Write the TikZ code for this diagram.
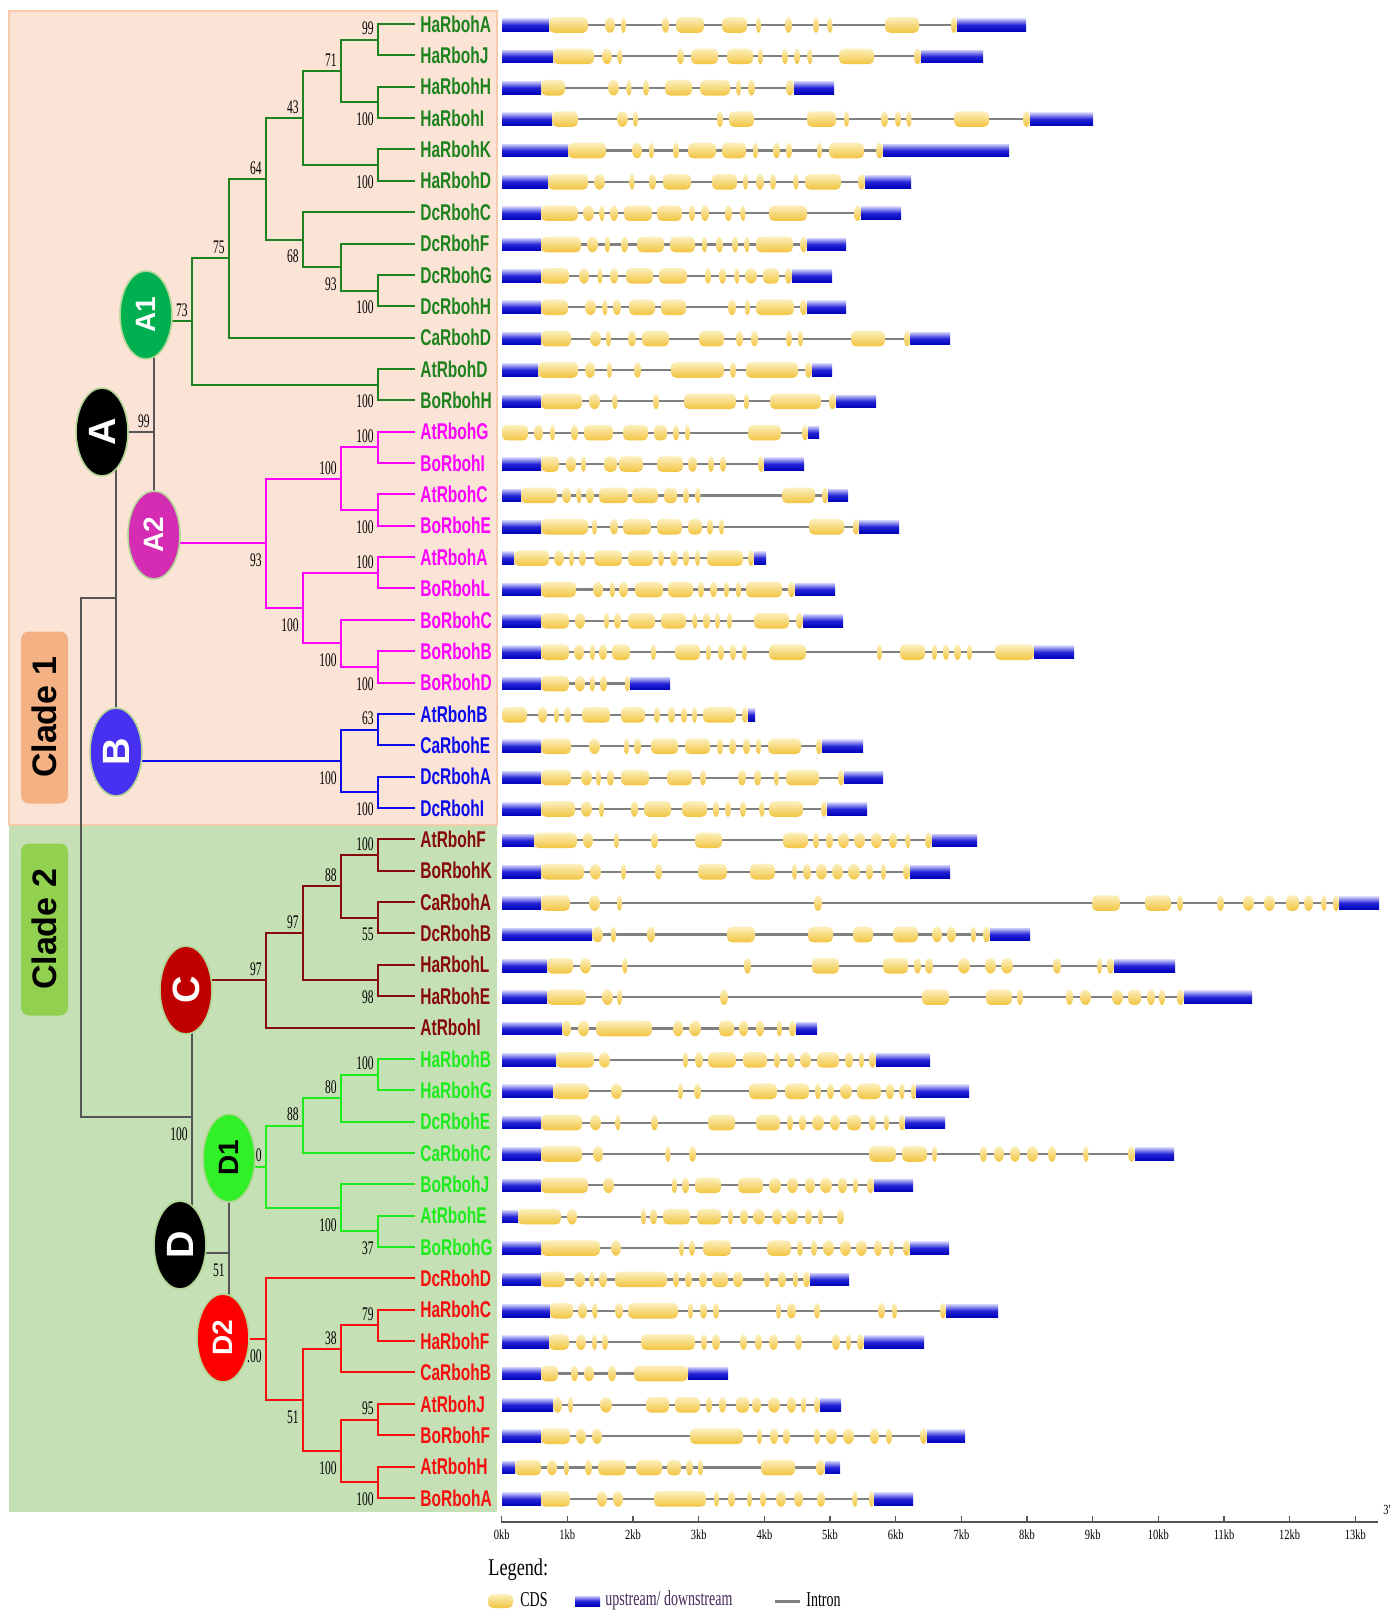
\documentclass[tikz,border=0pt]{standalone}
\usepackage{fontspec}
\usetikzlibrary{shapes.geometric}
\newfontfamily\leaffont[FakeStretch=0.68]{Liberation Sans}
\newfontfamily\bootfont[FakeStretch=0.6]{Liberation Serif}
\newfontfamily\cladefont{Liberation Sans}
\newfontfamily\kbfont[FakeStretch=0.75]{Liberation Serif}
\newfontfamily\legfont[FakeStretch=0.66]{Liberation Serif}
\newfontfamily\legheadfont[FakeStretch=0.76]{Liberation Serif}

\definecolor{grA1}{RGB}{30,130,30}
\definecolor{mgA2}{RGB}{255,0,255}
\definecolor{blB}{RGB}{10,10,235}
\definecolor{rdC}{RGB}{135,10,10}
\definecolor{grD1}{RGB}{30,235,30}
\definecolor{rdD2}{RGB}{245,15,15}
\definecolor{ellA1}{RGB}{0,176,80}
\definecolor{ellA2}{RGB}{212,44,178}
\definecolor{ellB}{RGB}{72,48,240}
\definecolor{ellC}{RGB}{192,0,0}
\definecolor{ellD1}{RGB}{50,240,40}
\definecolor{ellD2}{RGB}{255,0,0}
\definecolor{ellrim}{RGB}{178,214,150}
\definecolor{peach}{RGB}{251,228,214}
\definecolor{peachline}{RGB}{248,203,173}
\definecolor{sage}{RGB}{197,224,180}
\definecolor{boxone}{RGB}{244,177,131}
\definecolor{boxtwo}{RGB}{146,208,80}
\definecolor{introngray}{RGB}{128,128,128}
\definecolor{linkgray}{RGB}{85,85,85}
\definecolor{legpurple}{RGB}{70,40,90}

\tikzset{
  utr/.style={top color={rgb,255:red,200;green,200;blue,250},bottom color={rgb,255:red,0;green,0;blue,185},middle color={rgb,255:red,35;green,35;blue,215}},
  cds/.style={top color={rgb,255:red,252;green,240;blue,190},bottom color={rgb,255:red,242;green,196;blue,64}},
  intron/.style={draw=introngray,line width=1.1pt}
}

\newcommand{\genemodel}[4]{%
  \pgfmathsetmacro\gy{25+31.36*#1}
  \draw[intron] (502,\gy) -- (#2,\gy);
  \foreach \xa/\xb in {#3}{
    \shade[utr] (\xa,\gy-6.3) rectangle (\xb,\gy+6.3);
  }
  \foreach \xa/\xb in {#4}{
    \pgfmathtruncatemacro\isnarrow{(\xb-\xa)<13}
    \ifnum\isnarrow=1
      \pgfmathsetmacro\cx{(\xa+\xb)/2}
      \pgfmathsetmacro\rx{max((\xb-\xa)/2,2.5)}
      \shade[cds] (\cx,\gy) ellipse [x radius=\rx, y radius=7.8];
    \else
      \shade[cds,rounded corners=2.5pt] (\xa,\gy-7.8) rectangle (\xb,\gy+7.8);
    \fi
  }
}

\begin{document}
\begin{tikzpicture}[x=0.5pt,y=-0.5pt,
  declare function={row(\k)=24+31.36*\k;},
  leaf/.style={anchor=west,inner xsep=2.5pt,inner ysep=0pt,font=\leaffont\bfseries\fontsize{11.4}{12}\selectfont},
  boot/.style={anchor=east,inner sep=0pt,xshift=-2pt,font=\bootfont\fontsize{9.6}{10}\selectfont},
  bt/.style={boot,yshift=5.5pt},
  bb/.style={boot,yshift=-8.5pt},
  branch/.style={line width=1pt},
  link/.style={draw=linkgray,line width=0.7pt},
  ell/.style={ellipse,rotate=90,minimum width=44pt,minimum height=26pt,inner sep=0pt,draw=ellrim,line width=0.8pt,text=white,font=\cladefont\bfseries\fontsize{19}{20}\selectfont},
  ell2/.style={ell,font=\cladefont\bfseries\fontsize{14}{15}\selectfont},
  cladebox/.style={rounded corners=4pt,rotate=90,minimum width=86pt,minimum height=23.5pt,inner sep=0pt,font=\cladefont\bfseries\fontsize{17}{18}\selectfont},
  leg/.style={anchor=west,inner sep=0pt,font=\legfont\fontsize{10.6}{11}\selectfont}
]
  \useasboundingbox (0,0) rectangle (1400,1614);
  \fill[white] (0,0) rectangle (1400,1614);
  \filldraw[fill=peach,draw=peachline,line width=1pt] (9,11) rectangle (497,825);
  \fill[sage] (9,826) rectangle (497,1512);
  \node[cladebox,fill=boxone] (clade1) at (44.5,717.5) {Clade 1};
  \node[cladebox,fill=boxtwo] (clade2) at (44.5,929.5) {Clade 2};

  \foreach \i/\gn/\gc in {0/HaRbohA/grA1,1/HaRbohJ/grA1,2/HaRbohH/grA1,3/HaRbohI/grA1,4/HaRbohK/grA1,
      5/HaRbohD/grA1,6/DcRbohC/grA1,7/DcRbohF/grA1,8/DcRbohG/grA1,9/DcRbohH/grA1,10/CaRbohD/grA1,
      11/AtRbohD/grA1,12/BoRbohH/grA1,
      13/AtRbohG/mgA2,14/BoRbohI/mgA2,15/AtRbohC/mgA2,16/BoRbohE/mgA2,17/AtRbohA/mgA2,18/BoRbohL/mgA2,
      19/BoRbohC/mgA2,20/BoRbohB/mgA2,21/BoRbohD/mgA2,
      22/AtRbohB/blB,23/CaRbohE/blB,24/DcRbohA/blB,25/DcRbohI/blB,
      26/AtRbohF/rdC,27/BoRbohK/rdC,28/CaRbohA/rdC,29/DcRbohB/rdC,30/HaRbohL/rdC,31/HaRbohE/rdC,32/AtRbohI/rdC,
      33/HaRbohB/grD1,34/HaRbohG/grD1,35/DcRbohE/grD1,36/CaRbohC/grD1,37/BoRbohJ/grD1,38/AtRbohE/grD1,39/BoRbohG/grD1,
      40/DcRbohD/rdD2,41/HaRbohC/rdD2,42/HaRbohF/rdD2,43/CaRbohB/rdD2,44/AtRbohJ/rdD2,45/BoRbohF/rdD2,
      46/AtRbohH/rdD2,47/BoRbohA/rdD2}
    \node[leaf,text=\gc] (L\i) at (415,{row(\i)}) {\gn};

  \coordinate (cA1) at (146,315);
  \coordinate (cA) at (102,432);
  \coordinate (cA2) at (154,535);
  \coordinate (cB) at (116,752);
  \coordinate (cC) at (186,990);
  \coordinate (cD) at (180,1245);
  \coordinate (cD1) at (229,1158);
  \coordinate (cD2) at (223,1338);
  \coordinate (jA) at (154,432);
  \coordinate (jAB) at (116,598);
  \coordinate (r1) at (81,598);
  \coordinate (r2) at (81,1117);
  \coordinate (jCD) at (192,1117);
  \coordinate (jD) at (229,1253);

  \coordinate (n01) at (378,{row(0.5)});
  \coordinate (n23) at (378,{row(2.5)});
  \coordinate (n0123) at (341,{row(1.5)});
  \coordinate (n45) at (378,{row(4.5)});
  \coordinate (n05) at (303,{row(3)});
  \coordinate (n89) at (378,{row(8.5)});
  \coordinate (n79) at (341,{row(7.75)});
  \coordinate (n69) at (303,{row(6.875)});
  \coordinate (n09) at (266,{row(4.9375)});
  \coordinate (n010) at (229,{row(7.46875)});
  \coordinate (n1112) at (378,{row(11.5)});
  \coordinate (nA1) at (192,{row(9.484375)});
  \coordinate (n1314) at (378,{row(13.5)});
  \coordinate (n1516) at (378,{row(15.5)});
  \coordinate (n1316) at (341,{row(14.5)});
  \coordinate (n1718) at (378,{row(17.5)});
  \coordinate (n2021) at (378,{row(20.5)});
  \coordinate (n1921) at (341,{row(19.75)});
  \coordinate (n1721) at (303,{row(18.625)});
  \coordinate (nA2) at (266,{row(16.5625)});
  \coordinate (n2223) at (378,{row(22.5)});
  \coordinate (n2425) at (378,{row(24.5)});
  \coordinate (nB) at (341,{row(23.5)});
  \coordinate (n2627) at (378,{row(26.5)});
  \coordinate (n2829) at (378,{row(28.5)});
  \coordinate (n2629) at (341,{row(27.5)});
  \coordinate (n3031) at (378,{row(30.5)});
  \coordinate (n2631) at (303,{row(29)});
  \coordinate (nC) at (266,{row(30.5)});
  \coordinate (n3334) at (378,{row(33.5)});
  \coordinate (n3335) at (341,{row(34.25)});
  \coordinate (n3336) at (303,{row(35.125)});
  \coordinate (n3839) at (378,{row(38.5)});
  \coordinate (n3739) at (341,{row(37.75)});
  \coordinate (nD1) at (266,{row(36.4375)});
  \coordinate (n4142) at (378,{row(41.5)});
  \coordinate (n4143) at (341,{row(42.25)});
  \coordinate (n4445) at (378,{row(44.5)});
  \coordinate (n4647) at (378,{row(46.5)});
  \coordinate (n4447) at (341,{row(45.5)});
  \coordinate (n4147) at (303,{row(43.875)});
  \coordinate (nD2) at (266,{row(41.9375)});

  \draw[link] (cA2 |- cA1) -- (cA2);
  \draw[link] (cA) -- (jA);
  \draw[link] (cB |- cA) -- (cB);
  \draw[link] (jAB) -- (r1) -- (r2) -- (jCD);
  \draw[link] (jCD |- cC) -- (jCD |- cD);
  \draw[link] (cD |- jD) -- (jD);
  \draw[link] (jD |- cD1) -- (jD |- cD2);

  \foreach \p/\c in {n01/L0.west,n01/L1.west,n23/L2.west,n23/L3.west,n0123/n01,n0123/n23,
      n45/L4.west,n45/L5.west,n05/n0123,n05/n45,n89/L8.west,n89/L9.west,n79/L7.west,n79/n89,
      n69/L6.west,n69/n79,n09/n05,n09/n69,n010/n09,n010/L10.west,n1112/L11.west,n1112/L12.west,
      nA1/n010,nA1/n1112}
    \draw[branch,grA1] (\p) |- (\c);
  \foreach \p/\c in {n1314/L13.west,n1314/L14.west,n1516/L15.west,n1516/L16.west,n1316/n1314,n1316/n1516,
      n1718/L17.west,n1718/L18.west,n2021/L20.west,n2021/L21.west,n1921/L19.west,n1921/n2021,
      n1721/n1718,n1721/n1921,nA2/n1316,nA2/n1721}
    \draw[branch,mgA2] (\p) |- (\c);
  \foreach \p/\c in {n2223/L22.west,n2223/L23.west,n2425/L24.west,n2425/L25.west,nB/n2223,nB/n2425}
    \draw[branch,blB] (\p) |- (\c);
  \foreach \p/\c in {n2627/L26.west,n2627/L27.west,n2829/L28.west,n2829/L29.west,n2629/n2627,n2629/n2829,
      n3031/L30.west,n3031/L31.west,n2631/n2629,n2631/n3031,nC/n2631,nC/L32.west}
    \draw[branch,rdC] (\p) |- (\c);
  \foreach \p/\c in {n3334/L33.west,n3334/L34.west,n3335/n3334,n3335/L35.west,n3336/n3335,n3336/L36.west,
      n3839/L38.west,n3839/L39.west,n3739/L37.west,n3739/n3839,nD1/n3336,nD1/n3739}
    \draw[branch,grD1] (\p) |- (\c);
  \foreach \p/\c in {n4142/L41.west,n4142/L42.west,n4143/n4142,n4143/L43.west,n4445/L44.west,n4445/L45.west,
      n4647/L46.west,n4647/L47.west,n4447/n4445,n4447/n4647,n4147/n4143,n4147/n4447,nD2/L40.west,nD2/n4147}
    \draw[branch,rdD2] (\p) |- (\c);

  \draw[branch,grA1] (cA1 |- nA1) -- (nA1);
  \draw[branch,mgA2] (cA2 |- nA2) -- (nA2);
  \draw[branch,blB] (cB |- nB) -- (nB);
  \draw[branch,rdC] (cC |- nC) -- (nC);
  \draw[branch,grD1] (cD1 |- nD1) -- (nD1);
  \draw[branch,rdD2] (cD2 |- nD2) -- (nD2);

  \foreach \c/\v in {n01/99,n0123/71,n05/43,n09/64,n010/75,nA1/73,n1314/100,n1316/100,n1718/100,
      n2223/63,n2627/100,n2629/88,n2631/97,nC/97,n3334/100,n3335/80,n3336/88,nD1/0,
      n4142/79,n4143/38,n4445/95,jA/99}
    \node[bt] (bs\c) at (\c) {\v};
  \foreach \c/\v in {n23/100,n45/100,n89/100,n79/93,n69/68,n1112/100,n1516/100,n2021/100,n1921/100,
      n1721/100,nA2/93,n2425/100,nB/100,n2829/55,n3031/98,n3839/37,n3739/100,
      n4647/100,n4447/100,n4147/51,nD2/.00,jCD/100,jD/51}
    \node[bb] (bs\c) at (\c) {\v};

  \node[ell2,fill=ellA1] (A1) at (cA1) {A1};
  \node[ell,fill=black] (A) at (cA) {A};
  \node[ell2,fill=ellA2] (A2) at (cA2) {A2};
  \node[ell,fill=ellB] (B) at (cB) {B};
  \node[ell,fill=ellC] (C) at (cC) {C};
  \node[ell,fill=black] (D) at (cD) {D};
  \node[ell2,fill=ellD1,text=black] (D1) at (cD1) {D1};
  \node[ell2,fill=ellD2] (D2) at (cD2) {D2};

  \genemodel{0}{1026}{502/549,957/1026}{549/588,605/615,622/625,662/669,676/704,722/747,756/761,785/792,813/819,828/832,885/919,951/957}
  \genemodel{1}{983}{502/553,921/983}{553/594,602/612,619/621,677/684,691/718,727/753,758/763,782/788,794/800,808/812,839/874,914/921}
  \genemodel{2}{834}{502/541,794/834}{541/565,608/619,628/630,643/649,665/692,700/730,736/741,748/755,786/794}
  \genemodel{3}{1093}{502/552,1030/1093}{552/578,617/628,634/637,717/723,729/754,807/836,844/849,881/888,895/901,907/911,954/989,1023/1030}
  \genemodel{4}{1009}{502/568,883/1009}{568/606,632/642,650/653,673/679,688/716,722/746,753/758,773/780,786/792,818/821,829/864,876/883}
  \genemodel{5}{911}{502/548,865/911}{548/588,594/605,630/634,649/656,663/691,712/737,743/748,756/764,770/776,794/798,805/841,858/865}
  \genemodel{6}{901}{502/541,861/901}{541/578,583/594,600/604,610/618,624/652,657/682,689/695,701/709,725/732,741/745,769/807,854/861}
  \genemodel{7}{846}{502/541,807/846}{541/581,587/598,606/609,621/628,637/664,670/695,702/707,716/723,732/738,745/749,756/793,800/807}
  \genemodel{8}{832}{502/541,792/832}{541/569,579/589,598/602,610/618,626/653,659/687,705/711,719/726,735/739,745/757,763/779,785/792}
  \genemodel{9}{846}{502/541,807/846}{541/568,585/596,603/607,613/621,629/655,661/686,728/736,745/750,756/794,800/807}
  \genemodel{10}{950}{502/541,910/950}{541/571,590/601,607/610,628/636,642/669,699/724,736/743,751/758,786/792,798/803,851/885,904/910}
  \genemodel{11}{832}{502/538,812/832}{538/578,585/595,608/611,634/641,671/724,730/736,746/798,805/812}
  \genemodel{12}{876}{502/541,836/876}{541/582,589/600,613/617,653/659,684/736,744/749,770/821,829/836}
  \genemodel{13}{819}{808/819}{502/528,534/543,551/554,571/578,584/613,623/648,654/667,673/679,686/689,748/781,802/808}
  \genemodel{14}{804}{502/541,764/804}{541/559,566/576,582/585,604/617,619/643,657/683,688/697,708/714,720/726,758/764}
  \genemodel{15}{848}{502/521,828/848}{521/557,562/571,578/580,586/594,599/628,632/658,664/677,683/689,696/700,782/815,822/828}
  \genemodel{16}{899}{502/541,859/899}{541/588,593/596,610/618,623/651,657/682,688/702,707/713,719/724,809/844,853/859}
  \genemodel{17}{766}{502/514,754/766}{514/549,554/564,570/573,579/586,594/622,628/653,658/664,670/678,683/689,695/700,707/743,748/754}
  \genemodel{18}{835}{502/541,795/835}{541/576,593/603,611/614,619/628,635/663,668/693,698/704,710/717,724/729,736/741,746/782,788/795}
  \genemodel{19}{843}{502/541,803/843}{541/569,575/585,605/608,614/621,628/655,661/686,693/697,703/710,715/720,728/731,754/789,796/803}
  \genemodel{20}{1074}{502/541,1034/1074}{541/569,574/584,591/594,599/607,612/630,651/656,675/700,706/711,718/724,730/736,743/746,769/806,877/882,900/925,932/937,943/949,954/961,968/971,995/1034}
  \genemodel{21}{670}{502/541,630/670}{541/569,575/585,591/594,600/607,625/630}
  \genemodel{22}{755}{748/755}{502/527,538/547,555/558,564/571,582/610,621/645,654/660,668/675,681/687,693/696,703/736,742/748}
  \genemodel{23}{863}{502/541,822/863}{541/571,589/600,625/628,634/641,651/678,685/710,717/723,729/736,743/750,756/761,768/801,816/822}
  \genemodel{24}{883}{502/541,844/883}{541/571,581/592,597/600,607/614,621/649,667/692,700/706,738/746,754/761,774/779,786/819,838/844}
  \genemodel{25}{867}{502/541,827/867}{541/575,581/592,600/603,631/638,644/671,682/707,713/719,725/731,740/746,760/764,769/803,821/827}
  \genemodel{26}{977}{502/534,932/977}{534/577,583/593,615/618,651/658,695/722,783/808,813/819,826/833,838/849,854/865,871/882,889/897,906/910,925/932}
  \genemodel{27}{950}{502/541,910/950}{541/584,590/601,622/625,655/662,698/727,750/775,792/797,803/811,816/827,832/843,848/860,866/873,881/886,903/910}
  \genemodel{28}{1379}{502/541,1339/1379}{541/570,589/600,618/621,814/822,1092/1120,1145/1171,1177/1183,1217/1224,1243/1254,1264/1275,1286/1299,1304/1313,1322/1326,1333/1339}
  \genemodel{29}{1030}{502/592,990/1030}{592/603,612/615,647/655,727/755,808/833,853/873,893/918,932/942,947/956,971/976,983/990}
  \genemodel{30}{1175}{502/547,1114/1175}{547/573,580/591,623/627,744/751,812/839,883/908,914/921,925/933,958/970,985/996,1001/1013,1053/1061,1097/1102,1107/1114}
  \genemodel{31}{1252}{502/547,1184/1252}{547/586,602/613,618/621,720/728,922/949,986/1012,1017/1023,1066/1073,1080/1091,1112/1123,1128/1141,1147/1155,1159/1165,1177/1184}
  \genemodel{32}{817}{502/562,796/817}{562/571,578/589,596/652,673/683,689/701,719/734,739/748,756/764,777/782,789/796}
  \genemodel{33}{930}{502/556,876/930}{556/594,599/610,684/687,695/703,708/736,743/767,774/780,787/795,800/811,817/839,845/853,859/864,869/876}
  \genemodel{34}{969}{502/553,916/969}{553/589,611/622,679/682,694/701,749/777,785/809,815/821,827/834,840/852,857/881,886/894,900/904,911/916}
  \genemodel{35}{945}{502/541,905/945}{541/582,590/601,616/620,651/658,708/735,756/780,787/793,799/806,812/824,830/840,847/861,869/876,884/889,899/905}
  \genemodel{36}{1174}{502/541,1135/1174}{541/582,593/603,666/670,689/696,869/896,902/927,932/937,980/987,994/1004,1010/1020,1027/1038,1048/1056,1084/1088,1128/1135}
  \genemodel{37}{913}{502/541,874/913}{541/588,603/614,673/676,682/689,695/721,738/763,769/781,787/798,805/815,820/832,838/847,853/858,867/874}
  \genemodel{38}{844}{502/518}{518/561,567/577,642/645,650/657,663/690,697/721,728/733,740/748,753/765,772/782,786/798,805/812,818/823,837/844}
  \genemodel{39}{949}{502/541,910/949}{541/600,611/621,680/683,689/695,703/731,767/791,797/803,811/817,823/834,840/851,856/867,874/882,889/894,903/910}
  \genemodel{40}{849}{502/541,810/849}{541/565,574/585,590/594,599/607,615/667,673/679,685/692,699/707,712/728,733/743,764/770,778/786,793/798,803/810}
  \genemodel{41}{998}{502/550,946/998}{550/573,578/587,594/596,615/623,628/678,688/693,700/707,713/719,777/780,787/796,814/820,878/885,892/897,940/946}
  \genemodel{42}{924}{502/549,864/924}{549/569,576/586,593/596,602/608,641/695,701/707,712/720,740/747,755/762,769/778,795/802,832/840,846/851,857/864}
  \genemodel{43}{728}{502/541,688/728}{541/558,571/578,584/594,608/616,634/688}
  \genemodel{44}{841}{502/553,820/841}{553/562,569/572,600/612,646/669,675/700,706/712,719/726,736/749,752/761,768/780,787/796,801/806,814/820}
  \genemodel{45}{965}{502/541,927/965}{541/570,576/586,592/602,690/743,757/762,770/778,783/790,814/820,826/837,843/854,870/879,886/892,920/927}
  \genemodel{46}{840}{502/515,825/840}{515/541,547/557,565/568,585/592,598/626,636/662,667/681,686/693,699/702,761/795,816/825}
  \genemodel{47}{913}{502/541,874/913}{541/570,597/607,613/623,654/706,714/719,728/735,747/752,760/766,776/786,794/803,817/825,853/857,869/874}

  \draw[draw=linkgray,line width=1.2pt] (501,1522) -- (1378,1522);
  \foreach \k in {0,...,13} {
    \pgfmathsetmacro\tx{501.7+65.67*\k}
    \draw[draw=linkgray,line width=0.6pt] (\tx,1516) -- (\tx,1522);
    \node[inner sep=0pt,font=\kbfont\fontsize{7}{8}\selectfont] (tick\k) at (\tx,1535) {\k kb};
  }
  \node[inner sep=0pt,font=\kbfont\fontsize{7}{8}\selectfont] (end3) at (1387,1510) {3'};

  \node[anchor=west,inner sep=0pt,font=\legheadfont\fontsize{12}{13}\selectfont] (legend) at (488,1570) {Legend:};
  \shade[cds,rounded corners=2.5pt] (488,1594) rectangle (513,1608);
  \node[leg] (lcds) at (520,1600) {CDS};
  \shade[utr] (575,1596) rectangle (600,1606);
  \node[leg,text=legpurple] (lutr) at (605,1600) {upstream/ downstream};
  \draw[intron,line width=1.5pt] (775,1601) -- (800,1601);
  \node[leg] (lint) at (806,1600) {Intron};
\end{tikzpicture}
\end{document}
